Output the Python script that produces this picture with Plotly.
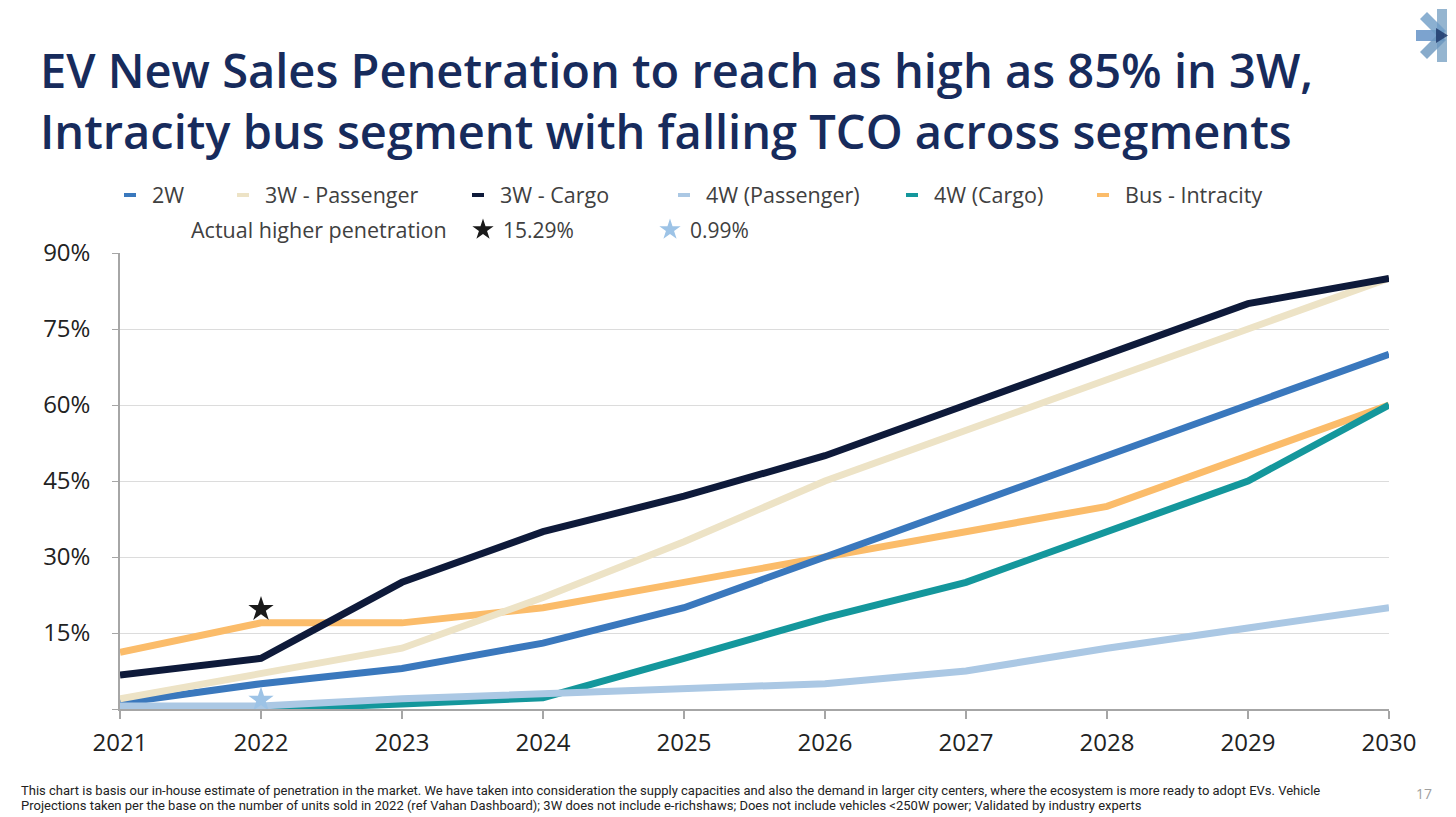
import plotly.graph_objects as go

# Years on the x axis
years = [2021, 2022, 2023, 2024, 2025, 2026, 2027, 2028, 2029, 2030]

# EV new sales penetration (%) per segment
pen_2w = [1.2, 5, 8, 13, 20, 30, 40, 50, 60, 70]
pen_3w_passenger = [2, 7, 12, 22, 33, 45, 55, 65, 75, 85]
pen_3w_cargo = [6.7, 10, 25, 35, 42, 50, 60, 70, 80, 85]
pen_4w_passenger = [0.6, 0.6, 2, 3, 4, 5, 7.5, 12, 16, 20]
pen_4w_cargo = [-0.2, -0.1, 1, 2.2, 10, 18, 25, 35, 45, 60]
pen_bus = [11.2, 17, 17, 20, 25, 30, 35, 40, 50, 60]

# "Actual higher penetration" markers (position on chart, label)
star_year = [2022]
star_dark_y = [19.7]
star_light_y = [1.8]
star_labels = ["15.29%", "0.99%"]

y_ticks = [0, 15, 30, 45, 60, 75, 90]
y_ticktext = ["", "15%", "30%", "45%", "60%", "75%", "90%"]

FONT = "Open Sans"
TITLE_COLOR = "#172B5C"
LEGEND_COLOR = "#404040"

# name, values, colour -- listed in drawing order (bottom first)
series = [
    ("Bus - Intracity", pen_bus, "#FBBC6A"),
    ("4W (Cargo)", pen_4w_cargo, "#14979C"),
    ("2W", pen_2w, "#3A78BD"),
    ("3W - Passenger", pen_3w_passenger, "#EDE3C6"),
    ("3W - Cargo", pen_3w_cargo, "#0E1A3A"),
    ("4W (Passenger)", pen_4w_passenger, "#ABC8E4"),
]
colour_of = {name: col for name, _, col in series}

# page has an 8px body margin, so the figure is shrunk by that much
PLOT_W = 1269
PLOT_H = 456


def px_x(v):
    """page pixel x -> paper coordinate"""
    return (v - 120) / PLOT_W


def px_y(v):
    """page pixel y -> paper coordinate"""
    return (709 - v) / PLOT_H


fig = go.Figure()

for name, vals, col in series:
    fig.add_trace(go.Scatter(
        x=years, y=vals, name=name, mode="lines",
        line=dict(color=col, width=7),
        cliponaxis=False, showlegend=False,
    ))

fig.add_trace(go.Scatter(
    x=star_year, y=star_dark_y, name=star_labels[0], mode="markers",
    marker=dict(symbol="star", size=19, color="#1A1A1A"),
    cliponaxis=False,
))
fig.add_trace(go.Scatter(
    x=star_year, y=star_light_y, name=star_labels[1], mode="markers",
    marker=dict(symbol="star", size=19, color="#9DC3E6"),
    cliponaxis=False,
))

fig.update_layout(
    width=1448, height=809,
    margin=dict(l=112, r=67, t=245, b=108),
    paper_bgcolor="white", plot_bgcolor="white",
    font=dict(family=FONT, color="#222222"),
    showlegend=True,
    legend=dict(
        orientation="h", x=px_x(463), xanchor="left", y=px_y(230), yanchor="middle",
        font=dict(size=21, color=LEGEND_COLOR), entrywidth=142,
        bgcolor="rgba(0,0,0,0)",
    ),
)

fig.update_xaxes(
    range=[2021, 2030], tickvals=years,
    showgrid=False, zeroline=False,
    showline=True, linecolor="#A6A6A6", linewidth=2,
    ticks="outside", ticklen=8, tickcolor="#A6A6A6", tickwidth=2,
    tickfont=dict(size=24, color="#222222"), ticklabelstandoff=3,
)
fig.update_yaxes(
    range=[0, 90], tickvals=y_ticks, ticktext=y_ticktext,
    showgrid=True, gridcolor="#DCDCDC", gridwidth=1.2, zeroline=False,
    showline=True, linecolor="#A6A6A6", linewidth=1.5,
    ticks="outside", ticklen=6, tickcolor="#A6A6A6",
    tickfont=dict(size=24, color="#222222"), ticklabelstandoff=17,
)

# title, two lines in one block
fig.add_annotation(
    text=("EV New Sales Penetration to reach as high as 85% in 3W,<br>"
          "Intracity bus segment with falling TCO across segments"),
    xref="paper", yref="paper", x=px_x(38), y=px_y(100),
    xanchor="left", yanchor="middle", align="left", showarrow=False,
    font=dict(size=47, color=TITLE_COLOR, weight=600),
)

# custom first legend row (Excel style short dashes)
legend_order = ["2W", "3W - Passenger", "3W - Cargo", "4W (Passenger)", "4W (Cargo)", "Bus - Intracity"]
legend_px = [130, 243, 478, 684, 912, 1103]
for name, px in zip(legend_order, legend_px):
    fig.add_shape(
        type="line", xref="paper", yref="paper",
        x0=px_x(px - 6), x1=px_x(px + 6), y0=px_y(195), y1=px_y(195),
        line=dict(color=colour_of[name], width=4),
    )
    fig.add_annotation(
        text=name, xref="paper", yref="paper", x=px_x(px + 20), y=px_y(195),
        xanchor="left", yanchor="middle", showarrow=False,
        font=dict(size=21.5, color=LEGEND_COLOR),
    )
fig.add_annotation(
    text="Actual higher penetration", xref="paper", yref="paper",
    x=px_x(189), y=px_y(230), xanchor="left", yanchor="middle",
    showarrow=False, font=dict(size=21.5, color=LEGEND_COLOR),
)

# footnote and page number
footnote = [
    ("This chart is basis our in-house estimate of penetration in the market. We have taken into "
     "consideration the supply capacities and also the demand in larger city centers, where the "
     "ecosystem is more ready to adopt EVs. Vehicle", 790),
    ("Projections taken per the base on the number of units sold in 2022 (ref Vahan Dashboard); "
     "3W does not include e-richshaws; Does not include vehicles <250W power; Validated by industry experts", 805),
]
for txt, ypx in footnote:
    fig.add_annotation(
        text=txt, xref="paper", yref="paper", x=px_x(19), y=px_y(ypx),
        xanchor="left", yanchor="middle", showarrow=False,
        font=dict(size=13, color="#222222", family="Roboto"),
    )
fig.add_annotation(
    text="17", xref="paper", yref="paper", x=px_x(1424), y=px_y(793),
    xanchor="center", yanchor="middle", showarrow=False,
    font=dict(size=14, color="#A0A0A0"),
)

# logo, top right (page pixel polygons)
logo_bars = [
    ([(1437, 9), (1447, 9), (1447, 62), (1437, 62)], "#7BA3C4"),
    ([(1416, 30), (1444, 30), (1444, 41), (1416, 41)], "#5B8CC3"),
    ([(1420, 19), (1427, 12), (1446, 31), (1439, 38)], "#6E9CC6"),
    ([(1420, 52), (1427, 59), (1446, 40), (1439, 33)], "#6A96BE"),
    ([(1436, 28), (1448, 35.5), (1436, 43)], "#1B3566"),
]
for pts, col in logo_bars:
    path = "M " + " L ".join(f"{px_x(a)} {px_y(b)}" for a, b in pts) + " Z"
    fig.add_shape(
        type="path", xref="paper", yref="paper", path=path,
        fillcolor=col, opacity=0.8, line=dict(width=0),
    )

fig.write_html("out.html")
